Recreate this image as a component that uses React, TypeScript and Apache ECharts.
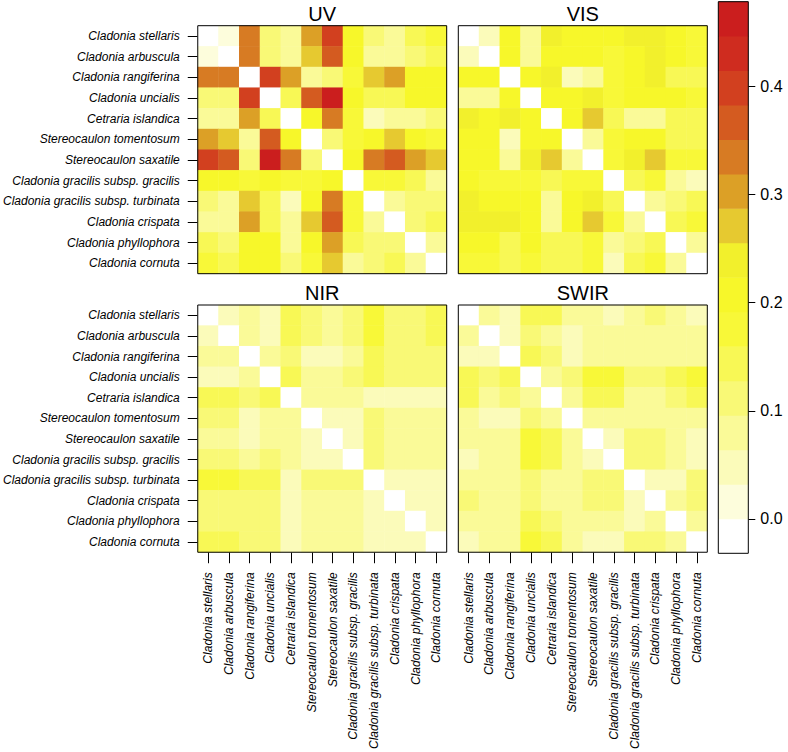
import React, { useEffect, useRef } from "react";
import * as echarts from "echarts";

const species = [
  "Cladonia stellaris",
  "Cladonia arbuscula",
  "Cladonia rangiferina",
  "Cladonia uncialis",
  "Cetraria islandica",
  "Stereocaulon tomentosum",
  "Stereocaulon saxatile",
  "Cladonia gracilis subsp. gracilis",
  "Cladonia gracilis subsp. turbinata",
  "Cladonia crispata",
  "Cladonia phyllophora",
  "Cladonia cornuta",
];

const panelTitles = ["UV", "VIS", "NIR", "SWIR"];

const uvValues = [
  [0, 0.016, 0.335, 0.112, 0.08, 0.304, 0.399, 0.208, 0.112, 0.08, 0.144, 0.176],
  [0.016, 0, 0.335, 0.112, 0.08, 0.272, 0.367, 0.208, 0.08, 0.08, 0.112, 0.144],
  [0.335, 0.335, 0, 0.399, 0.304, 0.08, 0.112, 0.176, 0.272, 0.304, 0.208, 0.208],
  [0.112, 0.112, 0.399, 0, 0.144, 0.367, 0.463, 0.208, 0.144, 0.144, 0.208, 0.208],
  [0.08, 0.08, 0.304, 0.144, 0, 0.208, 0.335, 0.176, 0.048, 0.08, 0.08, 0.112],
  [0.304, 0.272, 0.08, 0.367, 0.208, 0, 0.112, 0.176, 0.208, 0.272, 0.208, 0.176],
  [0.399, 0.367, 0.112, 0.463, 0.335, 0.112, 0, 0.208, 0.335, 0.367, 0.304, 0.272],
  [0.208, 0.208, 0.176, 0.208, 0.176, 0.176, 0.208, 0, 0.176, 0.176, 0.144, 0.08],
  [0.112, 0.08, 0.272, 0.144, 0.048, 0.208, 0.335, 0.176, 0, 0.08, 0.112, 0.112],
  [0.08, 0.08, 0.304, 0.144, 0.08, 0.272, 0.367, 0.176, 0.08, 0, 0.112, 0.144],
  [0.144, 0.112, 0.208, 0.208, 0.08, 0.208, 0.304, 0.144, 0.112, 0.112, 0, 0.08],
  [0.176, 0.144, 0.208, 0.208, 0.112, 0.176, 0.272, 0.08, 0.112, 0.144, 0.08, 0],
];

const visValues = [
  [0, 0.048, 0.208, 0.08, 0.24, 0.208, 0.208, 0.208, 0.24, 0.24, 0.208, 0.176],
  [0.048, 0, 0.208, 0.08, 0.208, 0.208, 0.208, 0.176, 0.208, 0.24, 0.208, 0.176],
  [0.208, 0.208, 0, 0.208, 0.24, 0.048, 0.08, 0.176, 0.208, 0.24, 0.144, 0.144],
  [0.08, 0.08, 0.208, 0, 0.208, 0.208, 0.24, 0.176, 0.208, 0.208, 0.208, 0.176],
  [0.24, 0.208, 0.24, 0.208, 0, 0.208, 0.272, 0.144, 0.08, 0.08, 0.144, 0.144],
  [0.208, 0.208, 0.048, 0.208, 0.208, 0, 0.08, 0.176, 0.208, 0.208, 0.144, 0.144],
  [0.208, 0.208, 0.08, 0.24, 0.272, 0.08, 0, 0.176, 0.24, 0.272, 0.176, 0.176],
  [0.208, 0.176, 0.176, 0.176, 0.144, 0.176, 0.176, 0, 0.144, 0.176, 0.08, 0.048],
  [0.24, 0.208, 0.208, 0.208, 0.08, 0.208, 0.24, 0.144, 0, 0.08, 0.112, 0.144],
  [0.24, 0.24, 0.24, 0.208, 0.08, 0.208, 0.272, 0.176, 0.08, 0, 0.144, 0.176],
  [0.208, 0.208, 0.144, 0.208, 0.144, 0.144, 0.176, 0.08, 0.112, 0.144, 0, 0.08],
  [0.176, 0.176, 0.144, 0.176, 0.144, 0.144, 0.176, 0.048, 0.144, 0.176, 0.08, 0],
];

const nirValues = [
  [0, 0.048, 0.08, 0.048, 0.144, 0.112, 0.08, 0.112, 0.176, 0.112, 0.112, 0.144],
  [0.048, 0, 0.08, 0.048, 0.144, 0.112, 0.08, 0.112, 0.176, 0.112, 0.112, 0.144],
  [0.08, 0.08, 0, 0.08, 0.112, 0.048, 0.048, 0.08, 0.144, 0.112, 0.112, 0.112],
  [0.048, 0.048, 0.08, 0, 0.144, 0.08, 0.08, 0.112, 0.144, 0.112, 0.112, 0.112],
  [0.144, 0.144, 0.112, 0.144, 0, 0.08, 0.08, 0.08, 0.048, 0.048, 0.048, 0.048],
  [0.112, 0.112, 0.048, 0.08, 0.08, 0, 0.048, 0.048, 0.112, 0.08, 0.08, 0.08],
  [0.08, 0.08, 0.048, 0.08, 0.08, 0.048, 0, 0.048, 0.112, 0.08, 0.08, 0.08],
  [0.112, 0.112, 0.08, 0.112, 0.08, 0.048, 0.048, 0, 0.112, 0.08, 0.08, 0.08],
  [0.176, 0.176, 0.144, 0.144, 0.048, 0.112, 0.112, 0.112, 0, 0.048, 0.048, 0.048],
  [0.112, 0.112, 0.112, 0.112, 0.048, 0.08, 0.08, 0.08, 0.048, 0, 0.048, 0.048],
  [0.112, 0.112, 0.112, 0.112, 0.048, 0.08, 0.08, 0.08, 0.048, 0.048, 0, 0.048],
  [0.144, 0.144, 0.112, 0.112, 0.048, 0.08, 0.08, 0.08, 0.048, 0.048, 0.048, 0],
];

const swirValues = [
  [0, 0.08, 0.048, 0.144, 0.144, 0.08, 0.08, 0.048, 0.08, 0.112, 0.08, 0.048],
  [0.08, 0, 0.048, 0.112, 0.08, 0.048, 0.08, 0.08, 0.08, 0.08, 0.08, 0.08],
  [0.048, 0.048, 0, 0.144, 0.112, 0.048, 0.08, 0.08, 0.08, 0.08, 0.08, 0.08],
  [0.144, 0.112, 0.144, 0, 0.08, 0.112, 0.176, 0.176, 0.112, 0.112, 0.144, 0.176],
  [0.144, 0.08, 0.112, 0.08, 0, 0.08, 0.144, 0.144, 0.08, 0.08, 0.112, 0.144],
  [0.08, 0.048, 0.048, 0.112, 0.08, 0, 0.08, 0.08, 0.08, 0.08, 0.08, 0.08],
  [0.08, 0.08, 0.08, 0.176, 0.144, 0.08, 0, 0.048, 0.112, 0.112, 0.08, 0.048],
  [0.048, 0.08, 0.08, 0.176, 0.144, 0.08, 0.048, 0, 0.112, 0.112, 0.08, 0.048],
  [0.08, 0.08, 0.08, 0.112, 0.08, 0.08, 0.112, 0.112, 0, 0.048, 0.048, 0.112],
  [0.112, 0.08, 0.08, 0.112, 0.08, 0.08, 0.112, 0.112, 0.048, 0, 0.08, 0.112],
  [0.08, 0.08, 0.08, 0.144, 0.112, 0.08, 0.08, 0.08, 0.048, 0.08, 0, 0.08],
  [0.048, 0.08, 0.08, 0.176, 0.144, 0.08, 0.048, 0.048, 0.112, 0.112, 0.08, 0],
];

// colour-scale breaks (16 bands) and band colours
const colorBreaks = [
  -0.0319, 0, 0.0319, 0.0638, 0.0957, 0.1276, 0.1595, 0.1914, 0.2233, 0.2552,
  0.2871, 0.319, 0.3509, 0.3828, 0.4147, 0.4466, 0.4785,
];
const bandColors = [
  "#FFFFFF", "#FDFDDC", "#FBFBBA", "#FAFA98", "#F9F976", "#F8F855", "#F8F838",
  "#F7F72A", "#F2F02C", "#E6C930", "#DCA026", "#D77B23", "#D45B20", "#D2401F",
  "#CF2C1F", "#CB1E1E",
];
const legendTicks = [0, 0.1, 0.2, 0.3, 0.4];

const FONT = "'Liberation Sans', Arial, Helvetica, sans-serif";

const panelGrids = [
  { left: 197.7, top: 25.7, width: 249, height: 248 },
  { left: 458.3, top: 25.7, width: 249, height: 248 },
  { left: 197.7, top: 305, width: 249, height: 248.3 },
  { left: 458.3, top: 305, width: 249, height: 248.3 },
];
const showXLabels = [false, false, true, true];
const showYLabels = [true, false, true, false];

export default function App() {
  const ref = useRef<HTMLDivElement>(null);

  useEffect(() => {
    if (!ref.current) return;
    const chart = echarts.init(ref.current, undefined, { renderer: "svg" });
    const matrices = [uvValues, visValues, nirValues, swirValues];

    const grids: any[] = panelGrids.map((g) => ({
      ...g,
      show: true,
      borderColor: "#000",
      borderWidth: 1,
      backgroundColor: "transparent",
      z: 10,
    }));
    grids.push({
      left: 718.3,
      top: 1.7,
      width: 30,
      height: 551.6,
      show: true,
      borderColor: "#000",
      borderWidth: 1,
      backgroundColor: "transparent",
      z: 10,
    });

    const xAxes: any[] = panelGrids.map((_, i) => ({
      gridIndex: i,
      type: "category",
      data: species,
      position: "bottom",
      axisLine: { show: false },
      splitLine: { show: false },
      axisTick: {
        show: showXLabels[i],
        length: 11,
        alignWithLabel: true,
        lineStyle: { color: "#000", width: 1 },
      },
      axisLabel: {
        show: showXLabels[i],
        interval: 0,
        rotate: 90,
        margin: 20,
        fontSize: 12,
        fontStyle: "italic",
        fontFamily: FONT,
        color: "#000",
      },
    }));
    xAxes.push({
      gridIndex: 4,
      type: "category",
      data: ["scale"],
      show: false,
    });

    const yAxes: any[] = panelGrids.map((_, i) => ({
      gridIndex: i,
      type: "category",
      data: species,
      inverse: true,
      position: "left",
      axisLine: { show: false },
      splitLine: { show: false },
      axisTick: {
        show: showYLabels[i],
        length: 10,
        alignWithLabel: true,
        lineStyle: { color: "#000", width: 1 },
      },
      axisLabel: {
        show: showYLabels[i],
        interval: 0,
        margin: 18,
        fontSize: 12,
        fontStyle: "italic",
        fontFamily: FONT,
        color: "#000",
      },
    }));
    yAxes.push({
      gridIndex: 4,
      type: "value",
      position: "right",
      min: colorBreaks[0],
      max: colorBreaks[colorBreaks.length - 1],
      axisLine: { show: false },
      splitLine: { show: false },
      axisTick: {
        show: true,
        length: 7,
        customValues: legendTicks,
        lineStyle: { color: "#000", width: 1 },
      },
      axisLabel: {
        show: true,
        customValues: legendTicks,
        formatter: (v: number) => v.toFixed(1),
        margin: 12,
        fontSize: 16,
        fontFamily: FONT,
        color: "#000",
      },
    });

    const heatSeries: any[] = matrices.map((m, i) => {
      const data: any[] = [];
      m.forEach((row, r) => {
        row.forEach((v, c) => {
          data.push([c, r, v]);
        });
      });
      return {
        type: "heatmap",
        name: panelTitles[i],
        xAxisIndex: i,
        yAxisIndex: i,
        data,
        itemStyle: { borderWidth: 0 },
        emphasis: { disabled: true },
      };
    });

    const pieces = bandColors.map((color, i) => {
      if (i === 0) return { gt: -1, lte: colorBreaks[1], color };
      if (i === bandColors.length - 1) return { gt: colorBreaks[i], lte: 1, color };
      return { gt: colorBreaks[i], lte: colorBreaks[i + 1], color };
    });

    const scaleData = bandColors.map((_, i) => [0, colorBreaks[i], colorBreaks[i + 1]]);

    const centers = panelGrids.map((g) => g.left + g.width / 2);
    const titleY = [14, 14, 293.3, 293.3];

    const option: any = {
      animation: false,
      backgroundColor: "#fff",
      grid: grids,
      xAxis: xAxes,
      yAxis: yAxes,
      visualMap: {
        type: "piecewise",
        show: false,
        seriesIndex: [0, 1, 2, 3],
        pieces,
      },
      graphic: panelTitles.map((t, i) => ({
        type: "text",
        x: centers[i],
        y: titleY[i],
        style: {
          text: t,
          fontSize: 20,
          fontFamily: FONT,
          fill: "#000",
          textAlign: "center",
          textVerticalAlign: "middle",
        },
      })),
      series: [
        ...heatSeries,
        {
          type: "custom",
          xAxisIndex: 4,
          yAxisIndex: 4,
          data: scaleData,
          encode: { x: 0, y: [1, 2] },
          renderItem: (params: any, api: any) => {
            const lo = api.coord([api.value(0), api.value(1)]);
            const hi = api.coord([api.value(0), api.value(2)]);
            const w = api.size([1, 0])[0];
            return {
              type: "rect",
              shape: {
                x: lo[0] - w / 2,
                y: hi[1] - 0.3,
                width: w,
                height: lo[1] - hi[1] + 0.6,
              },
              style: { fill: bandColors[params.dataIndex] },
            };
          },
        },
      ],
    };

    chart.setOption(option);
    return () => chart.dispose();
  }, []);

  return (
    <div
      ref={ref}
      style={{ position: "absolute", left: 0, top: 0, width: 788, height: 752 }}
    />
  );
}
